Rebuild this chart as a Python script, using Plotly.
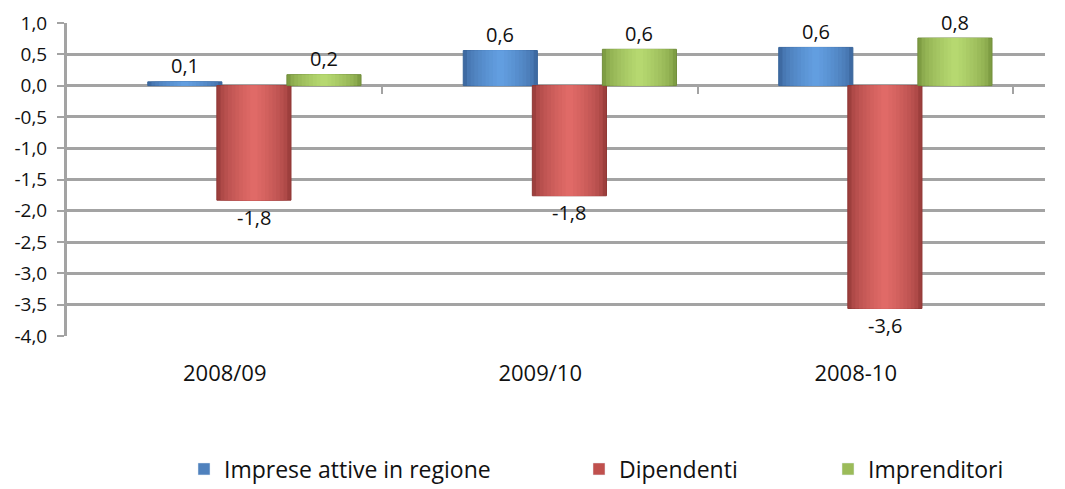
import plotly.graph_objects as go

# ---- data ----
categories = ["2008/09", "2009/10", "2008-10"]
series_names = ["Imprese attive in regione", "Dipendenti", "Imprenditori"]
imprese = [0.06, 0.56, 0.61]
dipendenti = [-1.83, -1.76, -3.56]
imprenditori = [0.175, 0.58, 0.76]
y_tick_values = [1.0, 0.5, 0.0, -0.5, -1.0, -1.5, -2.0, -2.5, -3.0, -3.5, -4.0]
y_tick_labels = ["1,0", "0,5", "0,0", "-0,5", "-1,0", "-1,5", "-2,0", "-2,5", "-3,0", "-3,5", "-4,0"]

# ---- style ----
FONT = "Open Sans"
TXT = "#111111"
GRID = "#a3a3a3"
bar_width = 0.235
bar_offsets = [-0.244, -0.025, 0.197]   # left edge relative to category centre
shades = [
    {"edge": (58, 100, 155), "mid": (98, 158, 224), "line": "#37649a", "legend": "#4f81bd"},
    {"edge": (150, 58, 56), "mid": (224, 106, 103), "line": "#8f3533", "legend": "#c0504d"},
    {"edge": (120, 150, 62), "mid": (182, 216, 112), "line": "#728e3c", "legend": "#9bbb59"},
]
n_layers = 10
legend_names = ["legend", "legend2", "legend3"]
legend_x_px = [184, 579, 828]
legend_y_px = 469


def mix(a, b, t):
    return "rgb({},{},{})".format(*[round(a[k] + (b[k] - a[k]) * t) for k in range(3)])


xs = list(range(len(categories)))
all_values = [imprese, dipendenti, imprenditori]

fig = go.Figure()
for s, (name, vals) in enumerate(zip(series_names, all_values)):
    sh = shades[s]
    fig.add_trace(go.Bar(
        x=xs, y=vals, name=name, width=bar_width, offset=bar_offsets[s],
        marker=dict(color=mix(sh["edge"], sh["mid"], 0.1), line=dict(color=sh["line"], width=1)),
        legend=legend_names[s], hoverinfo="skip", showlegend=False,
    ))
    # legend entry with the flat series colour
    fig.add_trace(go.Bar(
        x=[None], y=[None], name=name, marker=dict(color=sh["legend"]),
        legend=legend_names[s], hoverinfo="skip", showlegend=True,
    ))
    for k in range(1, n_layers):
        f = 1 - k / n_layers
        w = bar_width * f
        t = 0.1 + 0.9 * (k / (n_layers - 1)) ** 0.6
        fig.add_trace(go.Bar(
            x=xs, y=vals, width=w, offset=bar_offsets[s] + (bar_width - w) / 2,
            marker=dict(color=mix(sh["edge"], sh["mid"], t), line=dict(width=0)),
            showlegend=False, hoverinfo="skip",
        ))

# invisible trace to anchor the zero-line category tick axis
fig.add_trace(go.Scatter(x=[0], y=[0], xaxis="x2", mode="markers",
                         marker=dict(opacity=0), showlegend=False, hoverinfo="skip"))

# data labels
annotations = []
for s, vals in enumerate(all_values):
    for i, v in zip(xs, vals):
        annotations.append(dict(
            x=i + bar_offsets[s] + bar_width / 2, y=v, xref="x", yref="y",
            text=f"{v:.1f}".replace(".", ","), showarrow=False,
            yshift=16 if v > 0 else -17,
            font=dict(family=FONT, size=20, color=TXT),
        ))

W, H = 1065, 489
legend_common = dict(orientation="h", xref="container", yref="container",
                     yanchor="middle", y=1 - legend_y_px / H, xanchor="left",
                     font=dict(family=FONT, size=23, color=TXT),
                     bgcolor="rgba(0,0,0,0)", borderwidth=0)

fig.update_layout(
    width=W, height=H,
    margin=dict(l=67, r=20, t=23, b=153, autoexpand=False),
    paper_bgcolor="white", plot_bgcolor="white",
    barmode="overlay",
    separators=",.",
    showlegend=True,
    legend=dict(x=legend_x_px[0] / W, **legend_common),
    legend2=dict(x=legend_x_px[1] / W, **legend_common),
    legend3=dict(x=legend_x_px[2] / W, **legend_common),
    annotations=annotations,
    xaxis=dict(
        range=[-0.5, 2.6], tickmode="array", tickvals=xs, ticktext=categories,
        showgrid=False, zeroline=False, showline=False, ticks="",
        ticklabelstandoff=22, automargin=False,
        tickfont=dict(family=FONT, size=22, color=TXT),
    ),
    xaxis2=dict(
        range=[-0.5, 2.6], overlaying="x", anchor="free", position=0.8,
        tickmode="array", tickvals=[0.5, 1.5, 2.5], ticks="outside", ticklen=7,
        tickcolor=GRID, tickwidth=1.5, showticklabels=False, automargin=False,
        showgrid=False, zeroline=False, showline=False,
    ),
    yaxis=dict(
        range=[-4.0, 1.0], tickmode="array", tickvals=y_tick_values, ticktext=y_tick_labels,
        showgrid=True, gridcolor=GRID, gridwidth=2.5,
        zeroline=True, zerolinecolor=GRID, zerolinewidth=2.5,
        showline=True, linecolor=GRID, linewidth=3,
        ticks="outside", ticklen=7, tickcolor=GRID, tickwidth=1.5,
        ticklabelstandoff=6, automargin=False,
        tickfont=dict(family=FONT, size=19, color=TXT),
    ),
)

fig.write_html(
    "out.html",
    config={"displayModeBar": False},
    post_script="document.body.style.margin='0';document.body.style.overflow='hidden';",
)
